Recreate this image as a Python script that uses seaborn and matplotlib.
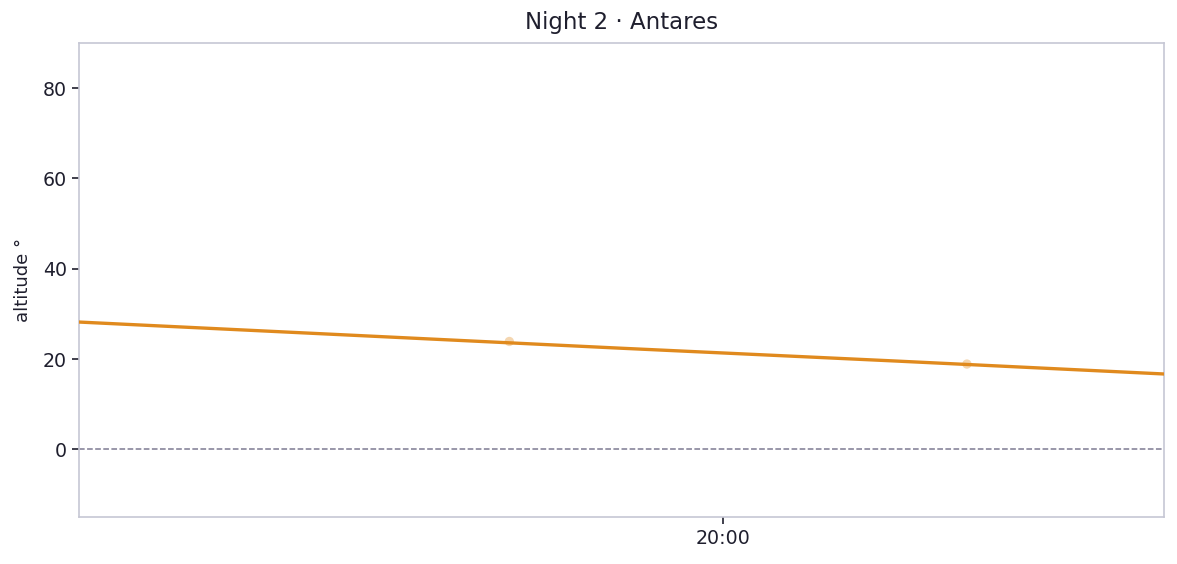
import pandas as pd
import matplotlib
matplotlib.use('Agg')
import matplotlib.pyplot as plt
import matplotlib.dates as mdates
import seaborn as sns

# altitude track
track_times = ['2024-06-02 19:24:24', '2024-06-02 19:39:24', '2024-06-02 19:54:24',
               '2024-06-02 20:09:24', '2024-06-02 20:24:24']
track_alt = [28.2, 25.3, 22.4, 19.6, 16.7]

# observed samples
obs_times = ['2024-06-02 19:48:12', '2024-06-02 20:13:30']
obs_alt = [23.9, 18.9]

title = 'Night 2 · Antares'

track = pd.DataFrame({'time': pd.to_datetime(track_times), 'alt': track_alt})
obs = pd.DataFrame({'time': pd.to_datetime(obs_times), 'alt': obs_alt})

sns.set_theme(style='ticks')
plt.rcParams['font.family'] = ['DejaVu Sans']

text_col = '#1f1f2e'
spine_col = '#c6c7d4'
orange = '#e08a1e'

fig, ax = plt.subplots(figsize=(11.77, 5.64), dpi=100)

sns.scatterplot(data=obs, x='time', y='alt', color=orange, alpha=0.35,
                s=45, edgecolor='none', ax=ax, zorder=2)
sns.lineplot(data=track, x='time', y='alt', color=orange, linewidth=2.4,
             ax=ax, zorder=3)
ax.axhline(0, color='#7d7a92', linestyle='--', linewidth=1.1, zorder=1)

ax.set_xlim(track['time'].iloc[0], track['time'].iloc[-1])
ax.set_ylim(-15, 90)
ax.set_yticks([0, 20, 40, 60, 80])
ax.xaxis.set_major_locator(mdates.HourLocator())
ax.xaxis.set_major_formatter(mdates.DateFormatter('%H:%M'))

ax.set_title(title, fontsize=16.5, color=text_col, pad=10)
ax.set_xlabel('')
ax.set_ylabel('altitude °', fontsize=13, color=text_col, labelpad=8)
ax.tick_params(colors=text_col, labelsize=13.7, length=5, width=1.2)
for sp in ax.spines.values():
    sp.set_color(spine_col)
    sp.set_linewidth(1.2)

fig.subplots_adjust(left=0.067, right=0.989, top=0.924, bottom=0.083)
fig.savefig('out.png', dpi=100)
